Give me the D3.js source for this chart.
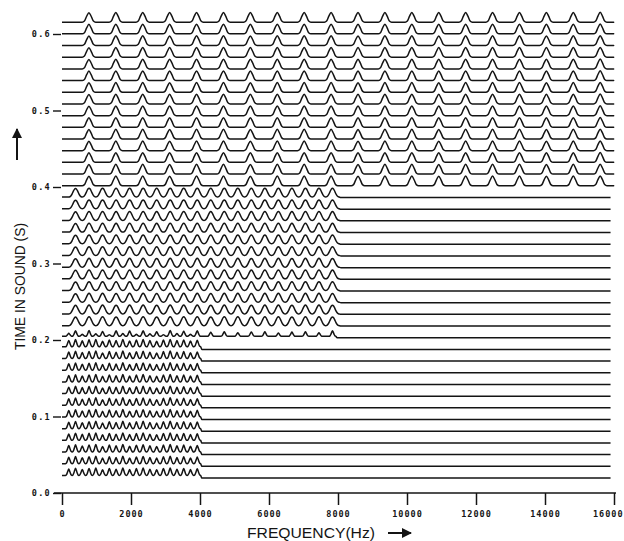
<!DOCTYPE html>
<html><head><meta charset="utf-8">
<script src="https://cdn.jsdelivr.net/npm/d3@7"></script>
<style>html,body{margin:0;padding:0;background:#fff;} svg{display:block}</style>
</head><body>
<svg id="chart" width="624" height="541"></svg>
<script>
// ---------- data ----------
const xTicks = [0, 2000, 4000, 6000, 8000, 10000, 12000, 14000, 16000];
const yTicks = [0, 0.1, 0.2, 0.3, 0.4, 0.5, 0.6];
const xTitle = "FREQUENCY(Hz)";
const yTitle = "TIME IN SOUND (S)";

// analysis frame times (s), one spectrum trace per frame
const frameTimes = [0.0196,0.0349,0.0502,0.0654,0.0807,0.0960,0.1113,0.1266,0.1418,0.1571,
  0.1724,0.1877,0.2030,0.2182,0.2335,0.2488,0.2641,0.2794,0.2946,0.3099,
  0.3252,0.3405,0.3558,0.3710,0.3863,0.4016,0.4169,0.4322,0.4474,0.4627,
  0.4780,0.4933,0.5086,0.5238,0.5391,0.5544,0.5697,0.5850,0.6002,0.6155];

// three sound segments: start time, fundamental (Hz), number of harmonics, level between harmonics
const segStart = [0, 0.2, 0.4];
const segF0 = [196, 392, 780];
const segHarmonics = [20, 20, 20];
const segPedestal = [0.26, 0.04, 0];

// spectral peak shape, from harmonic centre (first) to half way to next harmonic (last)
const profileLow  = [1, 0.7, 0.32, 0.07, 0];
const profileMid  = [1, 0.9, 0.66, 0.38, 0.16, 0.04, 0];
const profileHigh = [1, 0.62, 0.12, 0, 0, 0, 0];

// harmonic peak levels (relative)
const lowAmps  = [0.9,0.98,0.86,0.96,1.0,0.82,0.95,0.88,1.0,0.84,0.94,0.99,0.88,0.82,0.95,1.0,0.88,0.95,0.84,0.92];
const midAmps  = [0.9,0.93,0.93,0.92,0.93,0.93,0.92,0.93,0.93,0.93,0.92,0.93,0.93,0.92,0.93,0.93,0.92,0.93,0.93,0.92];
const highAmps = [0.95,0.97,0.97,0.96,0.97,0.97,0.96,0.97,0.97,0.97,0.96,0.97,0.97,0.96,0.97,0.97,0.97,0.96,0.97,0.98];

// transition frame straddling the 0.2 s boundary (harmonics of 196 Hz up to 7840 Hz)
const transitionTime = 0.2030;
const transitionPedestal = 0.14;
const transitionAmps = [0.45,0.7,0.35,0.72,0.4,0.62,0.3,0.7,0.42,0.66,0.35,0.7,0.4,0.6,0.3,0.72,0.42,0.65,0.35,0.7,
  0.14,0.55,0.14,0.6,0.14,0.5,0.14,0.58,0.14,0.6,0.14,0.48,0.14,0.56,0.14,0.6,0.14,0.5,0.14,0.7];
const traceEnd = 15900;

// ---------- layout ----------
const svg = d3.select("#chart");
const x = d3.scaleLinear().domain([0, 16000]).range([62, 614]);
const y = d3.scaleLinear().domain([0, 0.6]).range([493, 34]);
const lvl = d3.scaleLinear().domain([0, 1]).range([0, 10]);
const ink = "#141414";

function buildTrace(f0, K, profile, amps, ped) {
  const n = (profile.length - 1) * 2;
  const step = f0 / n;
  const pts = [];
  const last = K * n + n / 2;
  for (let j = 0; j <= last; j++) {
    const k = Math.round(j / n);
    const d = Math.abs(j - k * n);
    const a = (k === 0 || k > K) ? ped : amps[k - 1];
    pts.push({f: j * step, v: ped + (a - ped) * profile[d]});
  }
  if (ped > 0) pts.push({f: last * step + step * 1.5, v: 0});
  pts.push({f: traceEnd, v: 0});
  return pts;
}

const line = d3.line().curve(d3.curveMonotoneX);

const traces = frameTimes.map(t => {
  let pts;
  if (Math.abs(t - transitionTime) < 1e-6) {
    pts = buildTrace(segF0[0], transitionAmps.length, profileLow, transitionAmps, transitionPedestal);
  } else {
    const s = d3.bisectRight(segStart, t) - 1;
    const prof = [profileLow, profileMid, profileHigh][s];
    const amps = [lowAmps, midAmps, highAmps][s];
    pts = buildTrace(segF0[s], segHarmonics[s], prof, amps, segPedestal[s]);
  }
  return {t, pts};
});

svg.append("g").selectAll("path").data(traces).join("path")
  .attr("d", d => line(d.pts.map(p => [x(p.f), y(d.t) - lvl(p.v)])))
  .attr("fill", "none").attr("stroke", ink).attr("stroke-width", 1.5)
  .attr("stroke-linejoin", "round");

// x axis
const xAxis = svg.append("g").attr("transform", `translate(0,${y(0)})`)
  .call(d3.axisBottom(x).tickValues(xTicks).tickSize(12).tickSizeOuter(0).tickPadding(6)
    .tickFormat(d3.format("d")));
xAxis.select(".domain").remove();
xAxis.selectAll(".tick line").attr("stroke", ink).attr("stroke-width", 1.5);
xAxis.selectAll(".tick text").attr("fill", ink)
  .style("font-family", "'DejaVu Sans Mono', monospace").style("font-weight", "bold")
  .style("font-size", "8.5px").style("letter-spacing", "1px");
xAxis.selectAll(".tick text").filter(d => d === 16000).attr("text-anchor", "end").attr("x", 623 - x(16000));
svg.append("line").attr("x1", x(0) - 8).attr("x2", x(16000) + 2)
  .attr("y1", y(0)).attr("y2", y(0)).attr("stroke", ink).attr("stroke-width", 1.5);

// y axis
const yAxis = svg.append("g").attr("transform", `translate(${x(0) - 1},0)`)
  .call(d3.axisLeft(y).tickValues(yTicks).tickSize(8).tickSizeOuter(0).tickPadding(2)
    .tickFormat(d3.format(".1f")));
yAxis.select(".domain").remove();
yAxis.selectAll(".tick line").attr("stroke", ink).attr("stroke-width", 1.4);
yAxis.selectAll(".tick text").attr("fill", ink)
  .style("font-family", "'DejaVu Sans Mono', monospace").style("font-weight", "bold")
  .style("font-size", "8.5px").style("letter-spacing", "1.3px");

// titles
svg.append("text").attr("x", 247).attr("y", 538).text(xTitle)
  .attr("fill", ink).style("font-family", "'Liberation Sans', Arial, sans-serif")
  .style("font-size", "14.5px").attr("textLength", 128).attr("lengthAdjust", "spacingAndGlyphs");
svg.append("text").attr("transform", "translate(25,350) rotate(-90)").text(yTitle)
  .attr("fill", ink).style("font-family", "'Liberation Sans', Arial, sans-serif")
  .style("font-size", "15px").attr("textLength", 127).attr("lengthAdjust", "spacingAndGlyphs");

// arrows
const defs = svg.append("defs");
defs.append("marker").attr("id", "ah").attr("viewBox", "0 0 10 10").attr("refX", 9).attr("refY", 5)
  .attr("markerWidth", 5).attr("markerHeight", 5).attr("orient", "auto")
  .append("path").attr("d", "M0,0L10,5L0,10Z").attr("fill", ink);
svg.append("line").attr("x1", 388).attr("x2", 411).attr("y1", 533).attr("y2", 533)
  .attr("stroke", ink).attr("stroke-width", 2).attr("marker-end", "url(#ah)");
svg.append("line").attr("x1", 17).attr("x2", 17).attr("y1", 160).attr("y2", 129)
  .attr("stroke", ink).attr("stroke-width", 2).attr("marker-end", "url(#ah)");
</script>
</body></html>
